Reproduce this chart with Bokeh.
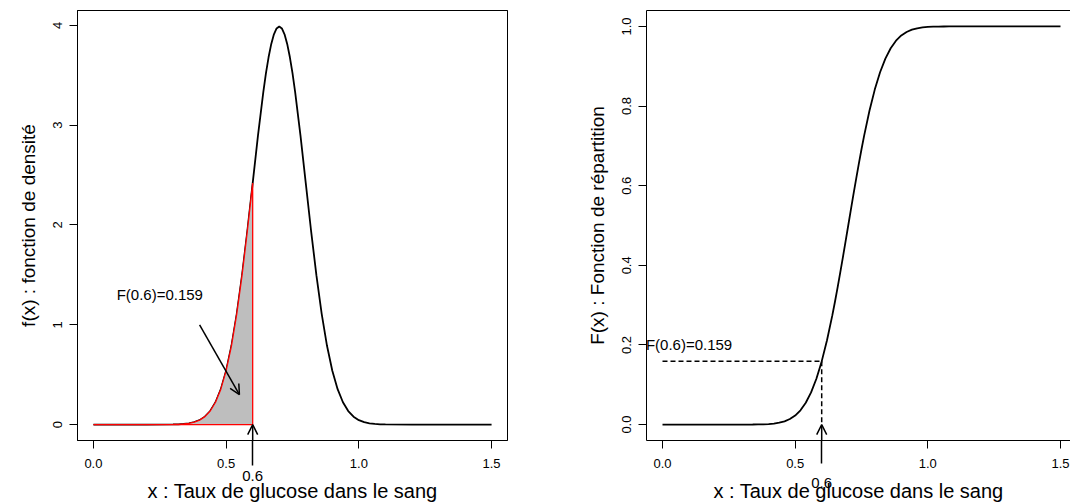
from bokeh.plotting import figure
from bokeh.models import (Range1d, FixedTicker, Label, Arrow, OpenHead, LinearAxis)
from bokeh.layouts import row
from bokeh.embed import file_html
from bokeh.resources import INLINE

# ---- data ----
x_vals = [0.00, 0.20, 0.30, 0.32, 0.34, 0.36, 0.38, 0.40, 0.42, 0.44, 0.46, 0.48,
          0.50, 0.52, 0.54, 0.56, 0.58, 0.60, 0.62, 0.64, 0.65, 0.66, 0.67, 0.68,
          0.69, 0.70, 0.71, 0.72, 0.73, 0.74, 0.75, 0.76, 0.78, 0.80, 0.82, 0.84,
          0.86, 0.88, 0.90, 0.92, 0.94, 0.96, 0.98, 1.00, 1.02, 1.04, 1.06, 1.08,
          1.10, 1.20, 1.50]
density = [0.0, 0.0, 0.0013, 0.0029, 0.0061, 0.0123, 0.0238, 0.0443, 0.0792, 0.1358,
           0.2239, 0.3547, 0.5399, 0.7895, 1.1092, 1.4973, 1.9419, 2.4197, 2.8969,
           3.3322, 3.5207, 3.6827, 3.8139, 3.9104, 3.9695, 3.9894, 3.9695, 3.9104,
           3.8139, 3.6827, 3.5207, 3.3322, 2.8969, 2.4197, 1.9419, 1.4973, 1.1092,
           0.7895, 0.5399, 0.3547, 0.2239, 0.1358, 0.0792, 0.0443, 0.0238, 0.0123,
           0.0061, 0.0029, 0.0013, 0.0, 0.0]
cdf = [0.0, 0.0, 0.00003, 0.00007, 0.00016, 0.00034, 0.00069, 0.00135, 0.00256,
       0.00466, 0.00820, 0.01390, 0.02275, 0.03593, 0.05480, 0.08076, 0.11507,
       0.15866, 0.21186, 0.27425, 0.30854, 0.34458, 0.38209, 0.42074, 0.46017, 0.5,
       0.53983, 0.57926, 0.61791, 0.65542, 0.69146, 0.72575, 0.78814, 0.84134,
       0.88493, 0.91924, 0.94520, 0.96407, 0.97725, 0.98610, 0.99180, 0.99534,
       0.99744, 0.99865, 0.99931, 0.99966, 0.99984, 0.99993, 0.99997, 1.0, 1.0]
x_cut = 0.6
f_cut = 2.4197
F_cut = 0.159
ann_text = "F(0.6)=0.159"
cut_label = "0.6"

x_ticks = [0.0, 0.5, 1.0, 1.5]
x_tick_labels = ["0.0", "0.5", "1.0", "1.5"]
y1_ticks = [0, 1, 2, 3, 4]
y1_tick_labels = ["0", "1", "2", "3", "4"]
y2_ticks = [0.0, 0.2, 0.4, 0.6, 0.8, 1.0]
y2_tick_labels = ["0.0", "0.2", "0.4", "0.6", "0.8", "1.0"]

xlab = "x : Taux de glucose dans le sang"
ylab1 = "f(x) : fonction de densité"
ylab2 = "F(x) : Fonction de répartition"

FONT = "Liberation Sans"
TICK_FS = "13px"
XLAB_FS = "20px"
YLAB_FS = "19px"
TXT_FS = "15px"

Y1_RANGE = (-0.1596, 4.149)
Y2_RANGE = (-0.04, 1.04)


def base_axis_style(ax):
    ax.axis_line_color = "black"
    ax.axis_line_width = 1
    ax.major_tick_line_color = "black"
    ax.major_tick_out = 8
    ax.major_tick_in = 0
    ax.minor_tick_line_color = None
    ax.major_label_text_font = FONT
    ax.major_label_text_font_size = TICK_FS
    ax.major_label_text_color = "black"
    ax.axis_label_text_font = FONT
    ax.axis_label_text_font_style = "normal"
    ax.axis_label_text_color = "black"


def style_axes(p, yticks, ylabels, yl, shaft_len, tick_standoff, cut_standoff,
               xl_standoff):
    # main x axis: regular ticks plus a long minor tick = arrow shaft below the box
    ax = p.xaxis[0]
    base_axis_style(ax)
    ax.ticker = FixedTicker(ticks=x_ticks, minor_ticks=[x_cut])
    ax.major_label_overrides = {t: l for t, l in zip(x_ticks, x_tick_labels)}
    ax.major_label_standoff = tick_standoff
    ax.minor_tick_line_color = "black"
    ax.minor_tick_line_width = 1.5
    ax.minor_tick_out = shaft_len
    ax.minor_tick_in = 0

    # second x axis: the "0.6" marker and the axis title
    ax2 = LinearAxis(ticker=FixedTicker(ticks=[x_cut]),
                     major_label_overrides={x_cut: cut_label})
    base_axis_style(ax2)
    ax2.axis_line_color = None
    ax2.major_tick_line_color = None
    ax2.major_tick_out = 0
    ax2.major_label_text_font_size = TXT_FS
    ax2.major_label_standoff = cut_standoff
    ax2.axis_label = xlab
    ax2.axis_label_text_font_size = XLAB_FS
    ax2.axis_label_standoff = xl_standoff
    p.add_layout(ax2, "below")

    for ay in p.yaxis:
        base_axis_style(ay)
        ay.ticker = FixedTicker(ticks=yticks)
        ay.major_label_overrides = {t: l for t, l in zip(yticks, ylabels)}
        ay.axis_label = yl
        ay.axis_label_text_font_size = YLAB_FS
        ay.major_label_orientation = "vertical"
        ay.major_label_standoff = 7
        ay.axis_label_standoff = 12

    top = LinearAxis(ticker=FixedTicker(ticks=[]), major_label_text_font_size="0px",
                     major_label_standoff=0, axis_label_standoff=0,
                     major_tick_out=0, major_tick_in=0, minor_tick_out=0,
                     minor_tick_in=0, axis_line_color="black")
    p.add_layout(top, "above")
    p.xgrid.grid_line_color = None
    p.ygrid.grid_line_color = None


# ---------- left panel: density ----------
p1 = figure(width=577, height=504, output_backend="svg", toolbar_location=None,
            x_range=Range1d(-0.06, 1.56), y_range=Range1d(*Y1_RANGE),
            min_border_left=77, min_border_right=70, min_border_top=10,
            min_border_bottom=64)
p1.outline_line_color = "black"
p1.outline_line_width = 1
p1.background_fill_color = "white"
p1.border_fill_color = "white"

shade_x = [x for x in x_vals if x <= x_cut] + [x_cut, x_vals[0]]
shade_y = [d for x, d in zip(x_vals, density) if x <= x_cut] + [0.0, 0.0]

p1.line(x_vals, density, line_color="black", line_width=1.8)
p1.patch(shade_x, shade_y, fill_color="#BEBEBE", line_color="#FF0000", line_width=1.3)

p1.add_layout(Label(x=0.25, y=1.3, text=ann_text, text_align="center",
                    text_baseline="middle", text_font=FONT, text_font_size=TXT_FS,
                    text_color="black"))
p1.add_layout(Arrow(x_start=0.4, y_start=1.0, x_end=0.55, y_end=0.3,
                    line_width=1.5, line_color="black",
                    end=OpenHead(size=10, line_width=1.5, line_color="black")))
p1.add_layout(Arrow(x_start=x_cut, y_start=Y1_RANGE[0], x_end=x_cut, y_end=0.0,
                    line_width=1.5, line_color="black",
                    end=OpenHead(size=10, line_width=1.5, line_color="black")))
style_axes(p1, y1_ticks, y1_tick_labels, ylab1, shaft_len=25, tick_standoff=-7,
           cut_standoff=0, xl_standoff=-4)

# ---------- right panel: CDF ----------
p2 = figure(width=493, height=504, output_backend="svg", toolbar_location=None,
            x_range=Range1d(-0.0603, 1.5377), y_range=Range1d(*Y2_RANGE),
            min_border_left=69, min_border_right=0, min_border_top=10,
            min_border_bottom=64)
p2.outline_line_color = None
p2.background_fill_color = "white"
p2.border_fill_color = "white"

p2.line(x_vals, cdf, line_color="black", line_width=1.8)
p2.line([x_vals[0], x_cut], [F_cut, F_cut], line_color="black", line_width=1.5,
        line_dash="5 3")
p2.line([x_cut, x_cut], [F_cut, 0.0], line_color="black", line_width=1.5,
        line_dash="5 3")
p2.add_layout(Label(x=0.1, y=0.2, text=ann_text, text_align="center",
                    text_baseline="middle", text_font=FONT, text_font_size=TXT_FS,
                    text_color="black"))
p2.add_layout(Arrow(x_start=x_cut, y_start=Y2_RANGE[0], x_end=x_cut, y_end=0.0,
                    line_width=1.5, line_color="black",
                    end=OpenHead(size=10, line_width=1.5, line_color="black")))
style_axes(p2, y2_ticks, y2_tick_labels, ylab2, shaft_len=23, tick_standoff=-5,
           cut_standoff=7, xl_standoff=-11)

layout = row(p1, p2)
open("out.html", "w").write(file_html(layout, INLINE))
